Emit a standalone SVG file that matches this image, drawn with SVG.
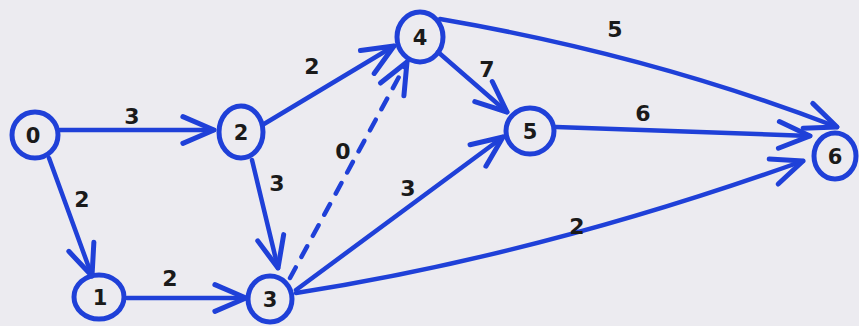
<svg xmlns="http://www.w3.org/2000/svg" width="859" height="326" viewBox="0 0 859 326">
<style>
.n{fill:none;stroke:#1f40d8;stroke-width:5}
.e{fill:none;stroke:#1f40d8;stroke-width:4.5;stroke-linecap:round}
.d{stroke-dasharray:12 12}
.t{font-family:"DejaVu Sans",sans-serif;font-weight:bold;font-size:21px;fill:#1a1a1a;text-anchor:middle}
.l{font-family:"DejaVu Sans",sans-serif;font-weight:bold;font-size:22px;fill:#1a1a1a;text-anchor:middle}
</style>
<defs>
<marker id="a" markerUnits="userSpaceOnUse" markerWidth="40" markerHeight="40" viewBox="-32 -16 36 32" refX="0" refY="0" orient="auto" overflow="visible">
<path d="M-28,-12 L0,0 L-28,12" fill="none" stroke="#1f40d8" stroke-width="4.5" stroke-linecap="round" stroke-linejoin="round"/>
</marker>
</defs>
<rect width="859" height="326" fill="#ecebf0"/>
<g id="connectors">
<path class="e" d="M60,130 L214,130" marker-end="url(#a)"/>
<path class="e" d="M49,158 L92,276" marker-end="url(#a)"/>
<path class="e" d="M127,298 L246,298" marker-end="url(#a)"/>
<path class="e" d="M252,160 L278,268" marker-end="url(#a)"/>
<path class="e" d="M264,124 L394,46" marker-end="url(#a)"/>
<path class="e d" d="M290,278 L407,62" marker-end="url(#a)"/>
<path class="e" d="M296,290 L503,137" marker-end="url(#a)"/>
<path class="e" d="M296,293 Q540,255 803,161" marker-end="url(#a)"/>
<path class="e" d="M438,52 L507,112" marker-end="url(#a)"/>
<path class="e" d="M440,19 Q650,55 837,127" marker-end="url(#a)"/>
<path class="e" d="M556,127 L810,136" marker-end="url(#a)"/>
<text class="l" x="132" y="124">3</text>
<text class="l" x="82" y="207">2</text>
<text class="l" x="277" y="191">3</text>
<text class="l" x="170" y="286">2</text>
<text class="l" x="312" y="74">2</text>
<text class="l" x="487" y="77">7</text>
<text class="l" x="343" y="159">0</text>
<text class="l" x="408" y="196">3</text>
<text class="l" x="615" y="37">5</text>
<text class="l" x="643" y="121">6</text>
<text class="l" x="577" y="234">2</text>
</g>
<g id="n0"><ellipse class="n" cx="35" cy="135" rx="23" ry="23"/><text class="t" x="33" y="143">0</text></g>
<g id="n1"><ellipse class="n" cx="99" cy="297" rx="25" ry="22"/><text class="t" x="100" y="305">1</text></g>
<g id="n2"><ellipse class="n" cx="241" cy="132" rx="22" ry="26"/><text class="t" x="241" y="140">2</text></g>
<g id="n3"><ellipse class="n" cx="270" cy="299" rx="22" ry="23"/><text class="t" x="270" y="307">3</text></g>
<g id="n4"><ellipse class="n" cx="420" cy="37" rx="23" ry="25"/><text class="t" x="420" y="45">4</text></g>
<g id="n5"><ellipse class="n" cx="530" cy="131" rx="24" ry="23"/><text class="t" x="530" y="139">5</text></g>
<g id="n6"><ellipse class="n" cx="835" cy="156" rx="21" ry="23"/><text class="t" x="835" y="164">6</text></g>
</svg>
